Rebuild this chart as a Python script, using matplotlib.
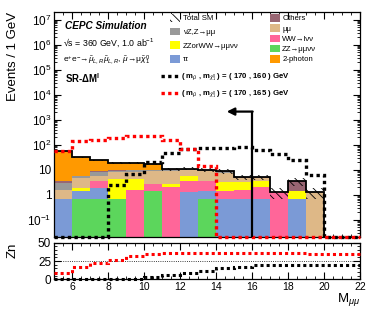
import numpy as np
import matplotlib
matplotlib.use("Agg")
import matplotlib.pyplot as plt
from matplotlib.patches import Patch
from matplotlib.lines import Line2D
from matplotlib.ticker import MultipleLocator, LogLocator, NullFormatter

plt.rcParams['font.family'] = ['Liberation Sans', 'DejaVu Sans']
plt.rcParams['mathtext.fontset'] = 'custom'
plt.rcParams['mathtext.rm'] = 'Liberation Sans'
plt.rcParams['mathtext.it'] = 'Liberation Sans:italic'
plt.rcParams['mathtext.bf'] = 'Liberation Sans:bold'
plt.rcParams['hatch.linewidth'] = 0.6

# Binning: 1 GeV bins from 5 to 22 GeV
edges = np.arange(5, 23, 1)

# Background components (events per bin), bottom -> top of the stack
zz_mumununu = np.array([0, 0.67, 0.67, 0.67, 0, 1.35, 0, 0, 0.67, 0, 0, 0, 0, 0, 0, 0, 0])
tautau = np.array([0.65, 0.7, 1.2, 0, 0, 0, 0, 1.3, 0.7, 0.67, 0.67, 0.67, 0, 0.67, 0, 0, 0])
ww_lnunu = np.array([0, 0, 1.5, 0, 1.6, 1.2, 2.0, 2.1, 2.0, 0.7, 0.93, 1.3, 1.25, 0, 0, 0, 0])
zzorww = np.array([0, 0.55, 0, 3.5, 2.6, 0, 0.7, 2.0, 0, 1.8, 1.5, 1.5, 0, 0.7, 0, 0, 0])
mumu = np.array([0.9, 2.8, 2.0, 4.2, 4.2, 6.0, 6.0, 4.6, 5.6, 4.0, 1.6, 1.3, 0, 0, 1.25, 0, 0])
nuz_zmumu = np.array([1.4, 0.7, 3.0, 0.8, 1.0, 1.0, 1.2, 0.6, 0.6, 0.8, 0, 0, 0, 0, 0, 0, 0])
others = np.array([0.5, 0.3, 0.4, 0.3, 0.3, 0.4, 0.7, 0.4, 0.4, 0.6, 0.4, 0.3, 0, 2.0, 0, 0, 0])
two_photon = np.array([51, 26, 15, 8.5, 8.3, 7.0, 0, 0, 0, 0, 0, 0, 0, 0, 0, 0, 0])
total_err = np.array([0.03, 0.05, 0.05, 0.08, 0.1, 0.1, 0.15, 0.15, 0.18, 0.2, 0.25, 0.25,
                      0.45, 0.35, 0.45, 0, 0])

# Signal points
sig_160 = np.array([0, 0, 0, 2.4, 6.5, 20, 45, 67, 74, 74, 80, 63, 42, 24, 6.3, 0, 0])
sig_165 = np.array([55, 135, 158, 186, 229, 229, 160, 65, 14, 0, 0, 0, 0, 0, 0, 0, 0])

# Significance Zn vs cut value
zn_160 = np.array([0, 0, 0, 0, 0, 2.7, 5.9, 9, 11.8, 15, 17, 19, 20, 20, 20, 20, 20])
zn_165 = np.array([8, 17, 22, 27, 32, 34.5, 36, 36.5, 36.5, 36.5, 36, 36, 35.5, 35.5, 35, 35, 35])

# Cut arrow
cut_x = 16
arrow_y = 2100
arrow_tip = 14.6

components = [
    (zz_mumununu, '#5cd65c', 'ZZ→μμνν'),
    (tautau, '#7b9ad6', 'ττ'),
    (ww_lnunu, '#ff6699', 'WW→lνν'),
    (zzorww, '#ffff00', 'ZZorWW→μμνν'),
    (mumu, '#deb887', 'μμ'),
    (nuz_zmumu, '#999999', 'νZ,Z→μμ'),
    (others, '#996673', 'Others'),
    (two_photon, '#ff9900', '2-photon'),
]

y_lo, y_hi = 0.02, 2e7

fig = plt.figure(figsize=(3.81, 3.10), dpi=100)
ax = fig.add_axes([0.1417, 0.235, 0.803, 0.726])
axz = fig.add_axes([0.1417, 0.099, 0.803, 0.118])

ax.set_yscale('log')
bottom = np.zeros(len(edges) - 1)
for vals, col, lab in components:
    ax.bar(edges[:-1], vals, width=1, align='edge', bottom=bottom,
           color=col, linewidth=0, zorder=2)
    bottom = bottom + vals
total = bottom

ax.stairs(total * (1 + total_err), edges, baseline=total * (1 - total_err), fill=True,
          facecolor='none', edgecolor='black', hatch='\\\\\\\\', linewidth=0, zorder=3)
ax.stairs(np.where(total > 0, total, y_lo * 0.1), edges, baseline=None,
          color='black', lw=1.3, zorder=4)

ax.stairs(np.where(sig_160 > 0, sig_160, y_lo), edges, baseline=None, color='black',
          lw=2.4, linestyle=(0, (1.0, 1.0)), zorder=5, clip_on=False)
ax.stairs(np.where(sig_165 > 0, sig_165, y_lo), edges, baseline=None, color='red',
          lw=2.4, linestyle=(0, (1.0, 1.0)), zorder=5, clip_on=False)

ax.plot([cut_x, cut_x], [y_lo, arrow_y], color='black', lw=1.6, zorder=6)
ax.annotate('', xy=(arrow_tip, arrow_y), xytext=(cut_x + 0.04, arrow_y),
            arrowprops=dict(arrowstyle='-|>', color='black', lw=1.6,
                            mutation_scale=11, shrinkA=0, shrinkB=0), zorder=6)

ax.set_xlim(5, 22)
ax.set_ylim(y_lo, y_hi)
ax.yaxis.set_minor_locator(LogLocator(base=10, subs=np.arange(2, 10), numticks=20))
ax.yaxis.set_minor_formatter(NullFormatter())
ax.set_yticks([1e-1, 1, 10, 1e2, 1e3, 1e4, 1e5, 1e6, 1e7])
ax.set_yticklabels(['$10^{-1}$', '1', '10', '$10^{2}$', '$10^{3}$', '$10^{4}$',
                    '$10^{5}$', '$10^{6}$', '$10^{7}$'])
ax.xaxis.set_major_locator(MultipleLocator(2))
ax.xaxis.set_minor_locator(MultipleLocator(0.5))
ax.tick_params(axis='x', labelbottom=False)
ax.set_ylabel('Events / 1 GeV', loc='top', fontsize=9.5, labelpad=6)

for a in (ax, axz):
    a.tick_params(which='both', direction='in', top=True, right=True, labelsize=8.5, pad=2)
    a.tick_params(which='major', length=5, width=0.8)
    a.tick_params(which='minor', length=2.5, width=0.6)
    for s in a.spines.values():
        s.set_linewidth(0.9)

# Labels
ax.text(0.035, 0.938, 'CEPC Simulation', transform=ax.transAxes, fontsize=7.2,
        fontweight='bold', fontstyle='italic', va='center')
ax.text(0.03, 0.862, '√s = 360 GeV, 1.0 ab$^{-1}$', transform=ax.transAxes,
        fontsize=6.3, va='center')
ax.text(0.03, 0.787, r'e$^{+}$e$^{-}$→$\tilde{\mu}_{L,R}\tilde{\mu}_{L,R}$, $\tilde{\mu}$→μ$\tilde{\chi}_{1}^{0}$',
        transform=ax.transAxes, fontsize=6.0, va='center')
ax.text(0.035, 0.707, r'SR-ΔM$^{\mathbf{l}}$', transform=ax.transAxes, fontsize=6.9,
        fontweight='bold', va='center')

# Legends
hatch_handle = Patch(facecolor='white', edgecolor='black', hatch='\\\\\\\\', linewidth=0)
patch = {lab: Patch(facecolor=col, edgecolor='none') for _, col, lab in components}
leg1 = ax.legend([hatch_handle, patch['νZ,Z→μμ'], patch['ZZorWW→μμνν'], patch['ττ']],
                 ['Total SM', 'νZ,Z→μμ', 'ZZorWW→μμνν', 'ττ'],
                 loc='upper left', bbox_to_anchor=(0.37, 1.005), frameon=False,
                 fontsize=5.6, handlelength=1.3, handleheight=1.1, handletextpad=0.3,
                 labelspacing=0.68, borderaxespad=0)
ax.add_artist(leg1)
leg2 = ax.legend([patch['Others'], patch['μμ'], patch['WW→lνν'], patch['ZZ→μμνν'], patch['2-photon']],
                 ['Others', 'μμ', 'WW→lνν', 'ZZ→μμνν', '2-photon'],
                 loc='upper left', bbox_to_anchor=(0.695, 1.005), frameon=False,
                 fontsize=5.6, handlelength=1.3, handleheight=1.1, handletextpad=0.3,
                 labelspacing=0.24, borderaxespad=0)
ax.add_artist(leg2)
sig_handles = [Line2D([], [], color='black', lw=2.4, linestyle=(0, (1.0, 1.0))),
               Line2D([], [], color='red', lw=2.4, linestyle=(0, (1.0, 1.0)))]
sig_labels = [r'( m$_{\tilde{\mu}}$ , m$_{\tilde{\chi}_{1}^{0}}$ ) = ( 170 , 160 ) GeV',
              r'( m$_{\tilde{\mu}}$ , m$_{\tilde{\chi}_{1}^{0}}$ ) = ( 170 , 165 ) GeV']
leg3 = ax.legend(sig_handles, sig_labels, loc='upper left', bbox_to_anchor=(0.34, 0.75),
                 frameon=False, prop={'size': 5.6, 'weight': 'bold'}, handlelength=2.2,
                 handletextpad=0.3, labelspacing=0.7, borderaxespad=0)

# Zn panel
axz.axhline(25, color='black', lw=0.6, linestyle=':')
axz.stairs(zn_160, edges, baseline=None, color='black', lw=2.2,
           linestyle=(0, (1.0, 1.0)), clip_on=False, zorder=5)
axz.stairs(zn_165, edges, baseline=None, color='red', lw=2.2,
           linestyle=(0, (1.0, 1.0)), clip_on=False, zorder=5)
axz.set_xlim(5, 22)
axz.set_ylim(0, 50)
axz.set_yticks([0, 25, 50])
axz.yaxis.set_minor_locator(MultipleLocator(5))
axz.xaxis.set_major_locator(MultipleLocator(2))
axz.xaxis.set_minor_locator(MultipleLocator(0.5))
axz.tick_params(axis='x', labelsize=7.5)
axz.set_ylabel('Zn', loc='top', fontsize=9.5, labelpad=14)
axz.set_xlabel(r'M$_{\mu\mu}$', loc='right', fontsize=9.5, labelpad=-1)

fig.savefig('out.png', dpi=100)
